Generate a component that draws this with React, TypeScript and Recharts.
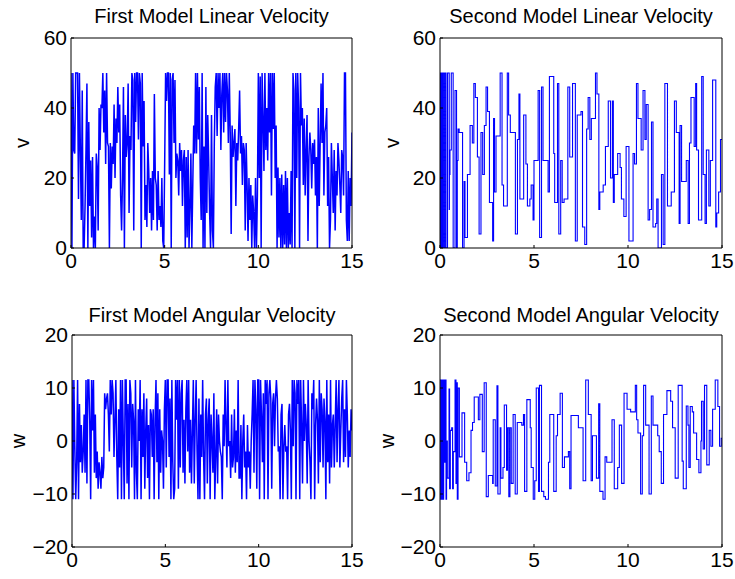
import { LineChart, Line, XAxis, YAxis } from 'recharts';

const FONT = "'Liberation Sans', Arial, Helvetica, sans-serif";
const BLUE = '#0000ff';

const xTicks = [0, 5, 10, 15];
const vTicks = [0, 20, 40, 60];
const wTicks = [-20, -10, 0, 10, 20];

const titles = [
  'First Model Linear Velocity',
  'Second Model Linear Velocity',
  'First Model Angular Velocity',
  'Second Model Angular Velocity',
];

// first model is sampled every 0.05 s (one row = 1 s)
const SAMPLE_DT = 0.05;

const firstV = [
  50, 0, 50, 28, 27, 50, 50, 50, 14, 50, 28, 8, 45, 0, 0, 12, 28, 47, 0, 36,
  12, 25, 3, 26, 0, 9, 0, 27, 23, 5, 40, 28, 41, 40, 50, 33, 45, 24, 50, 30,
  29, 0, 30, 17, 29, 24, 41, 20, 37, 30, 46, 33, 41, 15, 5, 20, 46, 0, 38, 26,
  30, 47, 10, 32, 28, 50, 48, 5, 50, 36, 50, 50, 31, 50, 47, 0, 50, 29, 42, 8,
  18, 6, 30, 22, 10, 20, 5, 22, 8, 44, 20, 18, 5, 22, 8, 12, 6, 20, 2, 0,
  24, 50, 42, 50, 50, 21, 50, 0, 48, 50, 30, 48, 20, 27, 25, 15, 30, 22, 28, 12,
  25, 28, 0, 26, 3, 28, 0, 12, 27, 0, 18, 35, 27, 50, 27, 50, 31, 46, 20, 8,
  50, 0, 29, 0, 46, 10, 38, 25, 10, 0, 38, 5, 0, 30, 46, 50, 32, 50, 40, 50,
  28, 44, 50, 33, 50, 36, 50, 45, 30, 50, 33, 4, 35, 26, 30, 34, 12, 30, 25, 34,
  45, 27, 32, 18, 30, 28, 5, 30, 18, 2, 20, 8, 18, 0, 15, 10, 0, 20, 0, 15,
  50, 20, 49, 0, 50, 37, 22, 50, 28, 40, 25, 50, 33, 50, 15, 50, 34, 50, 20, 35,
  0, 23, 3, 20, 0, 21, 0, 18, 1, 22, 0, 20, 0, 10, 1, 22, 0, 50, 45, 0,
  50, 20, 50, 40, 0, 50, 35, 40, 18, 37, 15, 28, 38, 2, 26, 33, 28, 17, 30, 24,
  31, 15, 26, 0, 40, 12, 30, 47, 30, 50, 15, 33, 35, 40, 12, 26, 0, 8, 30, 20,
  10, 28, 5, 22, 15, 30, 25, 18, 10, 28, 26, 15, 50, 50, 8, 2, 22, 2, 20, 12,
  33,
];

const firstW = [
  11.5, -11, 11.5, -1, -11, -4, 11.5, -11, 7, -4, 3, -6, -2, 5, -6, 11.5, -8, 11.5, 11.5, 4,
  -11, 11.5, 2, 11.5, -6, 5, -7, -2, -9, -4, -6, -9, -3, -7, -5, 9, 6, 8, 9, 5,
  -2, 11.5, 5, 11.5, 9, -3, 4, 11.5, -3, -11, 6, -5, 11.5, -11, 11.5, 0, -11, 11.5, 11.5, -8,
  7, -11, 11.5, 9, -5, 7, 4, -11, 11.5, -6, -11, 6, 0, 11.5, -11, 6, -3, 9, -9, 2,
  8, -7, 3, -11, 6, 5, -3, 6, -11, 4, 11.5, -4, 9, -11, 6, -6, 2, 0, -9, 6,
  11.5, -5, 11.5, 11.5, -3, 8, -11, 11.5, -4, -11, -9, 11.5, 4, 11.5, -9, 11.5, -5, 9, 11.5, -6,
  4, -8, 6, 11.5, -2, 11.5, -6, 4, -8, 2, 11.5, -8, 4, 11.5, -2, -11, 8, -11, 5, -3,
  11.5, -3, -11, 5, 8, -8, 4, 8, -11, 5, 0, -6, 9, -11, -3, 6, -8, 5, 0, -2,
  -3, -11, 5, -1, 11.5, 3, -5, 11.5, -1, 0, -7, 5, -5, -3, 6, -6, 2, -4, 11.5, -7,
  -7, 3, -11, 0, 5, -5, -2, -11, 3, -5, -2, -9, 0, 5, 11.5, -6, 11.5, 6, -9, 11.5,
  11.5, -11, 11.5, 5, -4, 9, -11, 11.5, 7, 11.5, -11, 9, 11.5, 8, -9, 7, 9, -1, 8, 11.5,
  8, -2, -1, -11, 5, 7, -11, -1, 3, -2, -1, -11, 5, 7, 2, -11, 11.5, -1, 11.5, 9,
  -11, 11.5, 7, 11.5, -11, 11.5, 3, -8, 11.5, 0, 7, 3, -8, 11.5, 0, -4, -11, 9, 6, 11.5,
  -11, 3, 8, 4, -8, 11.5, -4, 9, 6, -5, 8, 4, -11, 11.5, -4, 5, -8, 11.5, -5, 3,
  5, -5, 3, 11.5, -4, 6, 11.5, -5, 2, 8, 11.5, -4, 6, -3, 11.5, 5, -5, 2, -3, 6,
  2,
];

// second model: [time, held value] at every change
const secondV: [number, number][] = [
  [0, 50], [0.03, 0], [0.06, 50], [0.1, 0], [0.14, 50], [0.2, 0], [0.26, 50], [0.32, 0],
  [0.4, 50], [0.49, 11], [0.5, 21], [0.53, 28], [0.6, 50], [0.7, 0], [0.8, 45], [0.88, 0],
  [0.92, 25], [0.96, 34], [1.02, 33], [1.2, 0], [1.28, 19], [1.33, 3], [1.46, 21], [1.6, 35],
  [1.72, 30], [1.8, 47], [1.88, 43], [1.99, 26], [2.08, 4], [2.18, 33], [2.27, 21], [2.36, 35],
  [2.45, 46], [2.53, 39], [2.63, 13], [2.8, 2], [2.85, 37], [2.9, 16], [2.98, 32], [3.2, 50],
  [3.3, 18], [3.38, 12], [3.58, 50], [3.65, 38], [3.74, 33], [4.01, 4], [4.12, 31], [4.2, 44],
  [4.25, 14], [4.45, 38], [4.57, 24], [4.65, 12], [4.78, 14], [4.85, 18], [4.95, 8], [5.0, 25],
  [5.22, 45], [5.3, 3], [5.4, 46], [5.48, 25], [5.75, 16], [5.82, 49], [6.05, 27], [6.1, 13],
  [6.25, 47], [6.32, 4], [6.42, 25], [6.5, 13], [6.6, 14], [6.8, 46], [6.9, 26], [7.05, 47],
  [7.2, 2], [7.3, 38], [7.5, 39], [7.58, 6], [7.7, 1], [7.8, 34], [7.88, 43], [7.97, 31],
  [8.05, 37], [8.27, 50], [8.35, 44], [8.45, 11], [8.5, 16], [8.68, 18], [8.8, 29], [8.95, 42],
  [9.07, 20], [9.17, 42], [9.22, 13], [9.27, 21], [9.45, 27], [9.58, 23], [9.65, 14], [9.78, 9],
  [9.9, 29], [10.05, 2], [10.27, 27], [10.35, 24], [10.45, 47], [10.53, 37], [10.7, 28], [10.8, 45],
  [10.9, 31], [10.97, 41], [11.07, 8], [11.15, 11], [11.25, 36], [11.33, 6], [11.47, 7], [11.53, 14],
  [11.6, 0], [11.78, 21], [11.87, 1], [11.96, 47], [12.1, 12], [12.3, 16], [12.47, 42], [12.57, 33],
  [12.72, 7], [12.77, 35], [12.85, 19], [13.1, 25], [13.2, 7], [13.27, 30], [13.35, 43], [13.52, 29],
  [13.6, 47], [13.65, 28], [13.75, 8], [13.92, 49], [14.0, 21], [14.1, 7], [14.17, 28], [14.3, 12],
  [14.38, 25], [14.5, 48], [14.67, 6], [14.72, 10], [14.82, 16], [14.92, 31], [15, 31],
];

const secondW: [number, number][] = [
  [0, 11.5], [0.035, -11], [0.09, 11.5], [0.14, -11], [0.195, 11.5], [0.25, -4], [0.28, 11.5], [0.32, -11],
  [0.35, 0], [0.39, -7], [0.48, 9.8], [0.51, -9], [0.55, 2], [0.62, 2.5], [0.67, -9], [0.71, -2],
  [0.8, 11.5], [0.85, -8], [0.885, 11], [0.92, -11], [0.96, 10], [1.03, -3], [1.17, 5.3], [1.31, -4],
  [1.42, -7.5], [1.54, -6], [1.65, 2], [1.73, 3.5], [1.82, 8.3], [2.04, 4], [2.12, 8.8], [2.25, -2],
  [2.35, 11], [2.46, -10.5], [2.57, -6.5], [2.8, -8], [2.83, 4], [2.94, -8.5], [3.03, 10.4], [3.08, -10],
  [3.2, 2.5], [3.24, -7], [3.35, -5], [3.42, 6.8], [3.54, -5.5], [3.59, 2.5], [3.66, -10.5], [3.72, 2.5],
  [3.79, -8], [3.89, 5], [4.0, -10], [4.11, 3.5], [4.35, 3], [4.44, 5], [4.5, -9.5], [4.62, 7.8],
  [4.8, 2.5], [4.85, -5], [4.96, -11], [5.04, -7.5], [5.12, 10], [5.24, -9.5], [5.29, 10.5], [5.4, -9.5],
  [5.52, -10.5], [5.61, -11], [5.77, -4], [5.84, 5], [6.05, -9.5], [6.18, 1], [6.25, 5], [6.39, 9],
  [6.51, -5], [6.62, -3], [6.83, -2], [6.9, -9], [6.97, 4.8], [7.36, 2.5], [7.61, -7.5], [7.75, 11.5],
  [7.89, 5], [8.04, -7.5], [8.11, 1], [8.32, -7], [8.44, 7], [8.5, -9.5], [8.67, -11], [8.78, -3],
  [8.87, -4], [9.15, 4], [9.27, -9], [9.45, -5], [9.54, 3], [9.66, -8], [9.79, 9], [9.95, 6],
  [10.14, 5.5], [10.39, 10.5], [10.46, 4], [10.53, 1.5], [10.67, -10], [10.76, 1], [10.83, 10.5], [10.94, 3],
  [11.12, -10], [11.24, 8.5], [11.33, 3], [11.58, 1], [11.66, -2], [11.77, -8], [11.89, 5], [12.07, 9.5],
  [12.27, 7.5], [12.37, 2.5], [12.51, -7], [12.67, 10.5], [12.88, -3.8], [12.94, -9], [13.1, 6.6], [13.19, 3],
  [13.24, -5], [13.31, 6.5], [13.42, 5.5], [13.49, 1.5], [13.65, -3.5], [13.77, -6], [13.88, 0], [13.91, 7.5],
  [14.0, -1.5], [14.07, 10.5], [14.19, -4.5], [14.32, 2], [14.41, -1], [14.5, 6], [14.64, 11.5], [14.78, 6.5],
  [14.87, -1], [14.96, 0.5], [15, 0.5],
];

const sampled = (vals: number[]) => vals.map((v, i) => ({ t: i * SAMPLE_DT, v }));
const held = (pairs: [number, number][]) => pairs.map(([t, v]) => ({ t, v }));

const fmt = (v: number) => String(v).replace('-', '\u2212');
const tickStyle = { fill: '#000', fontSize: 21, fontFamily: FONT };

type PanelProps = {
  x: number;
  y: number;
  w: number;
  h: number;
  margin: { top: number; right: number; bottom: number; left: number };
  data: { t: number; v: number }[];
  yDomain: [number, number];
  yTicks: number[];
  step?: boolean;
};

function Panel({ x, y, w, h, margin, data, yDomain, yTicks, step }: PanelProps) {
  return (
    <div style={{ position: 'absolute', left: x, top: y }}>
      <LineChart width={w} height={h} data={data} margin={margin}>
        <XAxis
          xAxisId="b"
          dataKey="t"
          type="number"
          domain={[0, 15]}
          ticks={xTicks}
          interval={0}
          height={30}
          tickSize={-3}
          tickMargin={8}
          stroke="#000"
          tick={tickStyle}
          allowDataOverflow
        />
        <XAxis
          xAxisId="t"
          orientation="top"
          type="number"
          domain={[0, 15]}
          ticks={xTicks}
          interval={0}
          height={1}
          tickSize={-3}
          tick={false}
          stroke="#000"
          allowDataOverflow
        />
        <YAxis
          yAxisId="l"
          type="number"
          domain={yDomain}
          ticks={yTicks}
          interval={0}
          width={50}
          tickSize={-3}
          tickMargin={7}
          stroke="#000"
          tick={tickStyle}
          tickFormatter={fmt}
          allowDataOverflow
        />
        <YAxis
          yAxisId="r"
          orientation="right"
          type="number"
          domain={yDomain}
          ticks={yTicks}
          interval={0}
          width={1}
          tickSize={-3}
          tick={false}
          stroke="#000"
          allowDataOverflow
        />
        <Line
          xAxisId="b"
          yAxisId="l"
          dataKey="v"
          type={step ? 'stepAfter' : 'linear'}
          stroke={BLUE}
          strokeWidth={step ? 1.1 : 1.5}
          dot={false}
          isAnimationActive={false}
        />
      </LineChart>
    </div>
  );
}

export default function App() {
  return (
    <div
      style={{
        position: 'absolute',
        left: 0,
        top: 0,
        width: 735,
        height: 579,
        background: '#fff',
        fontFamily: FONT,
      }}
    >
      <Panel x={0} y={0} w={370} h={290} margin={{ top: 37, right: 17, bottom: 12, left: 21 }}
        data={sampled(firstV)} yDomain={[0, 60]} yTicks={vTicks} />
      <Panel x={370} y={0} w={365} h={290} margin={{ top: 37, right: 12, bottom: 12, left: 20 }}
        data={held(secondV)} yDomain={[0, 60]} yTicks={vTicks} step />
      <Panel x={0} y={290} w={370} h={289} margin={{ top: 44, right: 17, bottom: 2, left: 22 }}
        data={sampled(firstW)} yDomain={[-20, 20]} yTicks={wTicks} />
      <Panel x={370} y={290} w={365} h={289} margin={{ top: 44, right: 12, bottom: 2, left: 20 }}
        data={held(secondW)} yDomain={[-20, 20]} yTicks={wTicks} step />

      <svg width={735} height={579} style={{ position: 'absolute', left: 0, top: 0, pointerEvents: 'none' }}>
        <g fontFamily={FONT} fontSize={20} fill="#000" textAnchor="middle">
          <text x={211.5} y={23}>{titles[0]}</text>
          <text x={581} y={23}>{titles[1]}</text>
          <text x={212} y={322}>{titles[2]}</text>
          <text x={581} y={322}>{titles[3]}</text>
          <text transform="translate(29,143) rotate(-90)">v</text>
          <text transform="translate(399,143) rotate(-90)">v</text>
          <text transform="translate(25,441) rotate(-90)">w</text>
          <text transform="translate(394,441) rotate(-90)">w</text>
        </g>
      </svg>
    </div>
  );
}
